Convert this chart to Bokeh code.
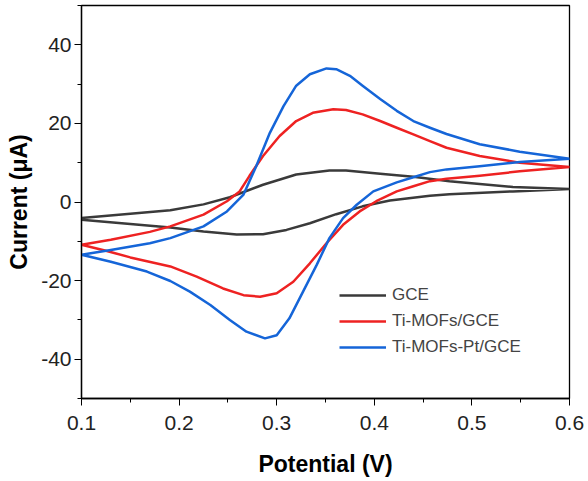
from bokeh.plotting import figure
from bokeh.models import FixedTicker, Range1d, Legend, LegendItem, CustomJSTickFormatter
from bokeh.embed import file_html
from bokeh.resources import INLINE

# GCE
gce_x = [0.100, 0.150, 0.191, 0.225, 0.252, 0.286, 0.320, 0.354, 0.371, 0.406, 0.440, 0.477, 0.542, 0.600,
         0.542, 0.477, 0.457, 0.416, 0.388, 0.361, 0.334, 0.310, 0.286, 0.259, 0.225, 0.191, 0.150, 0.100]
gce_y = [-4.1, -3.0, -2.1, -0.6, 1.2, 4.4, 7.0, 8.0, 8.0, 7.2, 6.4, 5.3, 3.8, 3.3,
         2.7, 2.0, 1.6, 0.4, -1.1, -3.1, -5.4, -7.1, -8.2, -8.3, -7.5, -6.5, -5.6, -4.5]

# Ti-MOFs/GCE
ti_x = [0.100, 0.130, 0.170, 0.191, 0.225, 0.249, 0.262, 0.272, 0.286, 0.303, 0.320, 0.337, 0.358, 0.371,
        0.388, 0.406, 0.423, 0.440, 0.457, 0.474, 0.508, 0.549, 0.600,
        0.549, 0.508, 0.474, 0.457, 0.440, 0.423, 0.402, 0.385, 0.368, 0.351, 0.334, 0.317, 0.300, 0.283,
        0.266, 0.245, 0.218, 0.191, 0.150, 0.125, 0.100]
ti_y = [-10.9, -9.6, -7.6, -6.2, -3.2, 0.2, 2.7, 6.6, 11.7, 16.8, 20.6, 22.7, 23.6, 23.4,
        22.3, 20.6, 18.9, 17.2, 15.5, 13.8, 11.7, 10.0, 8.9,
        7.8, 6.7, 5.9, 5.3, 4.0, 2.7, 0.2, -2.4, -5.8, -10.5, -15.6, -20.3, -23.2, -24.1,
        -23.7, -22.0, -19.0, -16.4, -14.1, -12.4, -10.9]

# Ti-MOFs-Pt/GCE
pt_x = [0.100, 0.130, 0.170, 0.191, 0.225, 0.249, 0.266, 0.279, 0.293, 0.307, 0.320, 0.334, 0.351, 0.361,
        0.375, 0.388, 0.406, 0.423, 0.440, 0.457, 0.474, 0.508, 0.549, 0.600,
        0.549, 0.508, 0.474, 0.457, 0.440, 0.423, 0.399, 0.382, 0.368, 0.354, 0.341, 0.327, 0.313, 0.300,
        0.288, 0.269, 0.252, 0.232, 0.211, 0.191, 0.167, 0.130, 0.100]
pt_y = [-13.4, -12.2, -10.5, -9.2, -6.2, -2.4, 1.9, 9.1, 17.6, 24.4, 29.6, 32.5, 34.0, 33.8,
        32.1, 29.6, 26.2, 23.2, 20.6, 18.9, 17.3, 14.7, 12.8, 11.0,
        10.2, 9.1, 8.3, 7.6, 6.3, 5.0, 2.7, -0.7, -4.1, -9.2, -16.0, -22.8, -29.6, -33.9,
        -34.7, -33.0, -30.0, -26.2, -22.8, -20.1, -17.7, -15.2, -13.4]

labels = ["GCE", "Ti-MOFs/GCE", "Ti-MOFs-Pt/GCE"]
colors = ["#3a3a3a", "#ee2222", "#1565d8"]

x_ticks = [0.1, 0.2, 0.3, 0.4, 0.5, 0.6]
x_minor = [0.15, 0.25, 0.35, 0.45, 0.55]
y_ticks = [-40, -20, 0, 20, 40]
y_minor = [-50, -30, -10, 10, 30, 50]

FONT = "Liberation Sans"

p = figure(width=586, height=479, output_backend="svg", toolbar_location=None,
           x_range=Range1d(0.1, 0.6), y_range=Range1d(-50, 50),
           min_border_left=81, min_border_right=17, min_border_top=5, min_border_bottom=81)
p.grid.grid_line_color = None
p.outline_line_color = "black"
p.outline_line_width = 1.3
p.background_fill_color = "white"
p.border_fill_color = "white"

renderers = []
for xs, ys, c in [(gce_x, gce_y, colors[0]), (ti_x, ti_y, colors[1]), (pt_x, pt_y, colors[2])]:
    r = p.line(xs, ys, line_color=c, line_width=2.5, line_join="round")
    renderers.append(r)

p.xaxis.ticker = FixedTicker(ticks=x_ticks, minor_ticks=x_minor)
p.yaxis.ticker = FixedTicker(ticks=y_ticks, minor_ticks=y_minor)
p.xaxis.formatter = CustomJSTickFormatter(code="return tick.toFixed(1);")
p.yaxis.formatter = CustomJSTickFormatter(code="return tick.toFixed(0);")
p.xaxis.axis_label = "Potential (V)"
p.yaxis.axis_label = "Current (\u03bcA)"
for ax in (p.xaxis, p.yaxis):
    ax.axis_label_text_font = FONT
    ax.axis_label_text_font_style = "bold"
    ax.axis_label_text_font_size = "23px"
    ax.axis_label_text_color = "black"
    ax.major_label_text_font = FONT
    ax.major_label_text_font_size = "21px"
    ax.major_label_text_color = "#222222"
    ax.axis_line_color = "black"
    ax.axis_line_width = 1.3
    ax.major_tick_line_color = "black"
    ax.minor_tick_line_color = "black"
    ax.major_tick_in = 0
    ax.minor_tick_in = 0
    ax.major_tick_out = 7
    ax.minor_tick_out = 4
p.xaxis.major_label_standoff = 10
p.xaxis.axis_label_standoff = 18
p.yaxis.major_label_standoff = 3
p.yaxis.axis_label_standoff = 6

legend = Legend(items=[LegendItem(label=l, renderers=[r]) for l, r in zip(labels, renderers)],
                location=(258, 41), padding=0, margin=0, spacing=6,
                glyph_width=47, glyph_height=20, label_height=20, label_standoff=6,
                label_text_font=FONT, label_text_font_size="17px",
                border_line_color=None, background_fill_alpha=0)
p.add_layout(legend)

open("out.html", "w").write(file_html(p, INLINE))
